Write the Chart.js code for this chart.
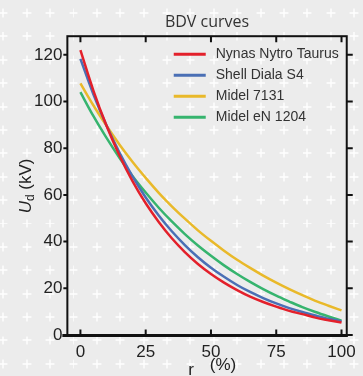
<!DOCTYPE html>
<html>
<head>
<meta charset="utf-8">
<script src="https://cdn.jsdelivr.net/npm/chart.js@4.4.0/dist/chart.umd.min.js"></script>
<style>
html,body{margin:0;padding:0;}
body{
  width:363px;height:376px;overflow:hidden;
  background-color:#ececec;
  background-image:url("data:image/svg+xml;utf8,<svg xmlns='http://www.w3.org/2000/svg' width='23.4' height='23.4'><path d='M7.4 11.7H16M11.7 7.4V16' stroke='white' stroke-width='1.3'/></svg>");
  background-size:23.4px 23.4px;
  background-position:-8.4px 1.3px;
}
canvas{display:block;}
</style>
</head>
<body>
<canvas id="bdvChart" width="363" height="376"></canvas>
<script>
// r (%) sampled every 5
var r_values = [0,5,10,15,20,25,30,35,40,45,50,55,60,65,70,75,80,85,90,95,100];
var nynas_nytro_taurus = [122.0,104.6,89.6,76.8,65.8,56.4,48.4,41.4,35.5,30.4,26.1,22.4,19.2,16.4,14.1,12.1,10.3,8.9,7.4,6.3,5.3];
var shell_diala_s4 = [118.3,103.0,89.7,78.0,67.8,58.9,51.2,44.4,38.5,33.3,28.8,24.9,21.4,18.4,15.8,13.5,11.5,9.8,8.3,6.9,5.8];
var midel_7131 = [107.8,98.3,89.6,81.5,74.1,67.3,60.9,55.1,49.8,44.8,40.3,36.1,32.2,28.7,25.4,22.4,19.6,17.0,14.6,12.5,10.5];
var midel_en_1204 = [104.0,93.7,84.4,75.8,68.0,61.0,54.5,48.6,43.2,38.3,33.9,29.8,26.1,22.7,19.6,16.8,14.3,11.9,9.8,7.9,6.1];

var series_names = ['Nynas Nytro Taurus','Shell Diala S4','Midel 7131','Midel eN 1204'];
var series_colors = ['#e3202b','#4a6fb5','#e9b92a','#36b46e'];
var x_ticks = [0,25,50,75,100];
var y_ticks = [0,20,40,60,80,100,120];

function toPoints(vals){
  return r_values.map(function(r,i){ return {x:r, y:vals[i]}; });
}

var all_series = [nynas_nytro_taurus, shell_diala_s4, midel_7131, midel_en_1204];
var datasets = [];
for (var i in all_series){
  datasets.push({
    label: series_names[i],
    data: toPoints(all_series[i]),
    borderColor: series_colors[i],
    backgroundColor: series_colors[i],
    borderWidth: 2.5,
    pointRadius: 0,
    fill: false,
    cubicInterpolationMode: 'monotone'
  });
}

var tickFont = {family:'"Liberation Sans", Arial, sans-serif', size:17};

// box, inner/outer tick marks, axis titles and legend
var framePlugin = {
  id:'frame',
  afterDraw:function(chart){
    var ctx = chart.ctx, a = chart.chartArea;
    var xs = chart.scales.x, ys = chart.scales.y;
    ctx.save();
    ctx.strokeStyle = '#111';
    ctx.lineWidth = 2;
    ctx.strokeRect(a.left, a.top, a.right - a.left, a.bottom - a.top);
    ctx.lineWidth = 3;
    ctx.beginPath();
    ctx.moveTo(a.left - 5, a.bottom); ctx.lineTo(a.right + 1, a.bottom);
    ctx.stroke();
    ctx.lineWidth = 2;
    ctx.beginPath();
    x_ticks.forEach(function(v){
      var px = xs.getPixelForValue(v);
      ctx.moveTo(px, a.top); ctx.lineTo(px, a.top + 6);
      ctx.moveTo(px, a.bottom); ctx.lineTo(px, a.bottom - 6);
    });
    y_ticks.forEach(function(v){
      var py = ys.getPixelForValue(v);
      ctx.moveTo(a.left, py); ctx.lineTo(a.left - 4, py);
      ctx.moveTo(a.right, py); ctx.lineTo(a.right + 6, py);
    });
    ctx.stroke();

    // y title  U_d (kV)
    ctx.fillStyle = '#222';
    ctx.textBaseline = 'middle';
    ctx.translate(a.left - 41, (a.top + a.bottom) / 2);
    ctx.rotate(-Math.PI / 2);
    var f = '"Liberation Sans", Arial, sans-serif';
    ctx.font = 'italic 17px ' + f;
    var w1 = ctx.measureText('U').width;
    ctx.font = '17px ' + f;
    var w3 = ctx.measureText(' (kV)').width;
    ctx.font = '12px ' + f;
    var w2 = ctx.measureText('d').width;
    var x0 = -(w1 + w2 + w3) / 2;
    ctx.textAlign = 'left';
    ctx.font = 'italic 17px ' + f;
    ctx.fillText('U', x0, 0);
    ctx.font = '12px ' + f;
    ctx.fillText('d', x0 + w1, 4);
    ctx.font = '17px ' + f;
    ctx.fillText(' (kV)', x0 + w1 + w2, 0);
    ctx.restore();

    // x title
    ctx.save();
    ctx.fillStyle = '#222';
    ctx.font = '17px ' + f;
    ctx.textAlign = 'center';
    ctx.textBaseline = 'middle';
    var cx = (a.left + a.right) / 2;
    ctx.fillText('r', cx - 16, a.bottom + 35);
    ctx.fillText('(%)', cx + 16, a.bottom + 30);
    ctx.restore();

    // legend inside plot
    ctx.save();
    ctx.font = '14px ' + f;
    ctx.textBaseline = 'middle';
    ctx.textAlign = 'left';
    chart.data.datasets.forEach(function(ds, k){
      var ly = a.top + 18 + k * 21;
      ctx.strokeStyle = ds.borderColor;
      ctx.lineWidth = 3;
      ctx.beginPath();
      ctx.moveTo(a.right - 173, ly); ctx.lineTo(a.right - 141, ly);
      ctx.stroke();
      ctx.fillStyle = '#333';
      ctx.fillText(ds.label, a.right - 131, ly);
    });
    ctx.restore();
  }
};

var ctx = document.getElementById('bdvChart');
var bdvChart = new Chart(ctx, {
  type:'line',
  data:{datasets:datasets},
  options:{
    responsive:false,
    animation:false,
    layout:{padding:{left:29, right:6, top:0, bottom:6}},
    plugins:{
      legend:{display:false},
      tooltip:{enabled:false},
      title:{
        display:true,
        text:'BDV curves',
        fullSize:false,
        color:'#333',
        font:{family:'"Open Sans", sans-serif', size:16, weight:'normal'},
        padding:{top:13, bottom:4}
      }
    },
    scales:{
      x:{
        type:'linear',
        min:-5, max:102,
        afterBuildTicks:function(s){ s.ticks = x_ticks.map(function(v){ return {value:v}; }); },
        grid:{display:false, drawTicks:false},
        border:{display:false},
        ticks:{font:tickFont, color:'#222', padding:7, maxRotation:0}
      },
      y:{
        min:-0.3, max:128,
        afterBuildTicks:function(s){ s.ticks = y_ticks.map(function(v){ return {value:v}; }); },
        grid:{display:false, drawTicks:false},
        border:{display:false},
        ticks:{font:tickFont, color:'#222', padding:5}
      }
    }
  },
  plugins:[framePlugin]
});
</script>
</body>
</html>
